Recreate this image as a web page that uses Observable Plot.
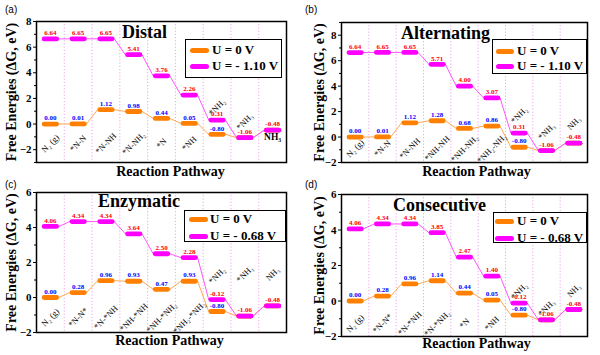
<!DOCTYPE html>
<html><head><meta charset="utf-8">
<script src="https://cdn.jsdelivr.net/npm/d3@7"></script>
<script src="https://cdn.jsdelivr.net/npm/@observablehq/plot@0.6"></script>
<style>
body{margin:0;background:#fff;}
#wrap{position:relative;width:600px;height:355px;overflow:hidden;font-family:"Liberation Serif",serif;}
.panel{position:absolute;}
.panel svg, .panel svg text{font-family:"Liberation Serif","Times New Roman",serif !important;}
.tag{position:absolute;font-family:"Liberation Sans",Arial,sans-serif;font-size:10px;line-height:1;}
.title{position:absolute;font-weight:bold;font-size:18px;line-height:1;white-space:nowrap;font-family:"Liberation Serif",serif;}
.legend{position:absolute;border:1px solid #000;background:#fff;box-sizing:border-box;}
.sw{position:absolute;height:5px;border-radius:3px;}
.lt{position:absolute;font-weight:bold;font-size:13px;line-height:1;white-space:nowrap;font-family:"Liberation Serif",serif;}
</style></head>
<body><div id="wrap"></div>
<script>
// ---- data ----
const catsDistal = ["N₂ (g)", "*N-N", "*N-NH", "*N-NH₂", "*N", "*NH", "*NH₂", "*NH₃", "NH₃"];
const distalU0 = [0.00, 0.01, 1.12, 0.98, 0.44, 0.05, -0.80, -1.06, -0.48];
const distalU1 = [6.64, 6.65, 6.65, 5.41, 3.76, 2.26, 0.31, -1.06, -0.48];

const catsAlt = ["N₂ (g)", "*N-N", "*N-NH", "*NH-NH", "*NH-NH₂", "*NH₂-NH₂", "*NH₂", "*NH₃", "NH₃"];
const altU0 = [0.00, 0.01, 1.12, 1.28, 0.68, 0.86, -0.80, -1.06, -0.48];
const altU1 = [6.64, 6.65, 6.65, 5.71, 4.00, 3.07, 0.31, -1.06, -0.48];

const catsEnz = ["N₂ (g)", "*N-N*", "*N-*NH", "*NH-*NH", "*NH-*NH₂", "*NH₂-*NH₂", "*NH₂", "*NH₃", "NH₃"];
const enzU0 = [0.00, 0.28, 0.96, 0.93, 0.47, 0.93, -0.80, -1.06, -0.48];
const enzU1 = [4.06, 4.34, 4.34, 3.64, 2.50, 2.28, -0.12, -1.06, -0.48];

const catsCon = ["N₂ (g)", "*N-N*", "*N-*NH", "*N-*NH₂", "*N", "*NH", "*NH₂", "*NH₃", "NH₃"];
const conU0 = [0.00, 0.28, 0.96, 1.14, 0.44, 0.05, -0.80, -1.06, -0.48];
const conU1 = [4.06, 4.34, 4.34, 3.85, 2.47, 1.40, -0.12, -1.06, -0.48];

const ticksA = [-2, 0, 2, 4, 6, 8];
const ticksC = [-2, 0, 2, 4, 6];
const legendA = ["U = 0 V", "U = - 1.10 V"];
const legendC = ["U = 0 V", "U = - 0.68 V"];
const yTitle = "Free Energies (ΔG, eV)";
const xTitle = "Reaction Pathway";

// ---- style / layout ----
const ORANGE = "#ff8000", MAGENTA = "#ff00ff";
const FONT = "Liberation Serif, serif";
const hw = 0.225, cw = 0.3;

const panels = [
  {tag:"(a)", title:"Distal", cats:catsDistal, u0:distalU0, u1:distalU1, ticks:ticksA, domain:[-3,8], legend:legendA,
   left:0, top:0, m:[21,14,18,36], botDy:-19, topDy:[-13,-16,7], topRot:[-45,-45,0], yDx:-25, xDx:9, xDy:9,
   titlePos:[122,23], leg:[185,39,97,39], sw:[4,10,26], swW:19, txtX:26},
  {tag:"(b)", title:"Alternating", cats:catsAlt, u0:altU0, u1:altU1, ticks:ticksA, domain:[-2,9], legend:legendA,
   left:300, top:0, m:[22,13,18,41], botDy:-14, topDy:[-18,-19,-20], topRot:[-45,-45,-45], yDx:-22, xDx:12, xDy:9,
   titlePos:[401,24], leg:[492,39,95,35], sw:[3,11,26], swW:18, txtX:24},
  {tag:"(c)", title:"Enzymatic", cats:catsEnz, u0:enzU0, u1:enzU1, ticks:ticksC, domain:[-2,6], legend:legendC,
   left:0, top:175, m:[17,14,23,36], botDy:-15, topDy:[-24,-42,-32], topRot:[-45,-45,-45], yDx:-25, xDx:8, xDy:8,
   titlePos:[98,192], leg:[184,210,102,32], sw:[4,8,25], swW:19, txtX:25},
  {tag:"(d)", title:"Consecutive", cats:catsCon, u0:conU0, u1:conU1, ticks:ticksC, domain:[-2,6], legend:legendC,
   left:300, top:175, m:[19,13,19,41], botDy:-13, topDy:[-12,-12,-19], topRot:[-45,-45,-45], yDx:-22, xDx:12, xDy:7,
   titlePos:[393,196], leg:[493,212,94,31], sw:[1,8,25], swW:19, txtX:23}
];

const wrap = document.getElementById("wrap");

function segs(rows) {
  return rows.slice(0, -1).map((r, k) => ({x1: r.i + cw, y1: r.v, x2: rows[k + 1].i - cw, y2: rows[k + 1].v}));
}

for (const p of panels) {
  const n = p.cats.length;
  const idx = p.cats.map((_, i) => i);
  const r0 = idx.map(i => ({i, v: p.u0[i], c: p.cats[i]}));
  const r1 = idx.map(i => ({i, v: p.u1[i], c: p.cats[i]}));
  const bottom = r0.slice(0, 6);
  const topL = r1.slice(6).map((d, k) => ({...d, k}));
  const minor = [];
  for (let t = p.domain[0]; t <= p.domain[1]; t++) if (!p.ticks.includes(t)) minor.push(t);

  const chart = Plot.plot({
    width: 300, height: 180,
    marginTop: p.m[0], marginRight: p.m[1], marginBottom: p.m[2], marginLeft: p.m[3],
    style: {background: "transparent", fontFamily: FONT, fontWeight: "bold", fontSize: "11px", overflow: "visible"},
    x: {domain: [-0.5, n - 0.5], axis: null},
    y: {domain: p.domain, axis: null},
    marks: [
      Plot.ruleX(idx.slice(0, -1), {x: i => i + 0.5, stroke: "#e99be9", strokeWidth: 0.9, strokeDasharray: "1.2,2"}),
      Plot.link(segs(r0), {x1: "x1", y1: "y1", x2: "x2", y2: "y2", stroke: "#ffa850", strokeWidth: 1}),
      Plot.link(segs(r1), {x1: "x1", y1: "y1", x2: "x2", y2: "y2", stroke: "#ff55ff", strokeWidth: 1}),
      Plot.link(r0, {x1: d => d.i - hw, x2: d => d.i + hw, y1: "v", y2: "v", stroke: ORANGE, strokeWidth: 4.8, strokeLinecap: "round"}),
      Plot.link(r1, {x1: d => d.i - hw, x2: d => d.i + hw, y1: "v", y2: "v", stroke: MAGENTA, strokeWidth: 4.8, strokeLinecap: "round"}),
      Plot.text(r0.filter(d => p.u0[d.i] !== p.u1[d.i]), {x: "i", y: "v", text: d => d.v.toFixed(2), dy: -6, fill: "#0000ff", fontSize: 7, fontWeight: "bold", fontFamily: FONT}),
      Plot.text(r1, {x: "i", y: "v", text: d => d.v.toFixed(2), dy: -6, fill: "#ff0000", fontSize: 7, fontWeight: "bold", fontFamily: FONT}),
      Plot.text(bottom, {x: "i", frameAnchor: "bottom", dy: p.botDy, text: "c", rotate: -45, textAnchor: "middle", lineAnchor: "middle", fontSize: 8.5, fontWeight: "normal", fill: "#000", fontFamily: FONT}),
      ...topL.map(d => Plot.text([d], {x: "i", y: "v", dy: p.topDy[d.k], text: "c", rotate: p.topRot[d.k], textAnchor: "middle", lineAnchor: "middle", fontSize: p.topRot[d.k] === 0 ? 9.5 : 8.5, fontWeight: p.topRot[d.k] === 0 ? "bold" : "normal", fill: "#000", fontFamily: FONT})),
      Plot.axisY(p.ticks, {tickSize: 3, tickPadding: 2, label: null, fontSize: 11, fontWeight: "bold", fontFamily: FONT}),
      Plot.axisY(minor, {tickSize: 2, tickFormat: () => "", label: null}),
      Plot.frame({stroke: "#000", strokeWidth: 1.5}),
      Plot.text([yTitle], {frameAnchor: "left", dx: p.yDx, rotate: -90, textAnchor: "middle", lineAnchor: "middle", fontSize: 14, fontWeight: "bold", fontFamily: FONT}),
      Plot.text([xTitle], {frameAnchor: "bottom", dx: p.xDx, dy: p.xDy, textAnchor: "middle", lineAnchor: "middle", fontSize: 14, fontWeight: "bold", fontFamily: FONT})
    ]
  });
  const div = document.createElement("div");
  div.className = "panel";
  div.style.left = p.left + "px";
  div.style.top = p.top + "px";
  div.appendChild(chart);
  wrap.appendChild(div);

  const tag = document.createElement("div");
  tag.className = "tag"; tag.textContent = p.tag;
  tag.style.left = (p.left + 5) + "px"; tag.style.top = (p.top + 5) + "px";
  wrap.appendChild(tag);

  const title = document.createElement("div");
  title.className = "title"; title.textContent = p.title;
  title.style.left = p.titlePos[0] + "px"; title.style.top = p.titlePos[1] + "px";
  wrap.appendChild(title);

  const leg = document.createElement("div");
  leg.className = "legend";
  leg.style.left = p.leg[0] + "px"; leg.style.top = p.leg[1] + "px";
  leg.style.width = p.leg[2] + "px"; leg.style.height = p.leg[3] + "px";
  [ORANGE, MAGENTA].forEach((col, k) => {
    const cy = k === 0 ? p.sw[1] : p.sw[2];
    const s = document.createElement("div");
    s.className = "sw"; s.style.background = col;
    s.style.left = p.sw[0] + "px"; s.style.width = p.swW + "px"; s.style.top = (cy - 2.5) + "px";
    leg.appendChild(s);
    const t = document.createElement("div");
    t.className = "lt"; t.textContent = p.legend[k];
    t.style.left = p.txtX + "px"; t.style.top = (cy - 7) + "px";
    leg.appendChild(t);
  });
  wrap.appendChild(leg);
}
</script></body></html>
